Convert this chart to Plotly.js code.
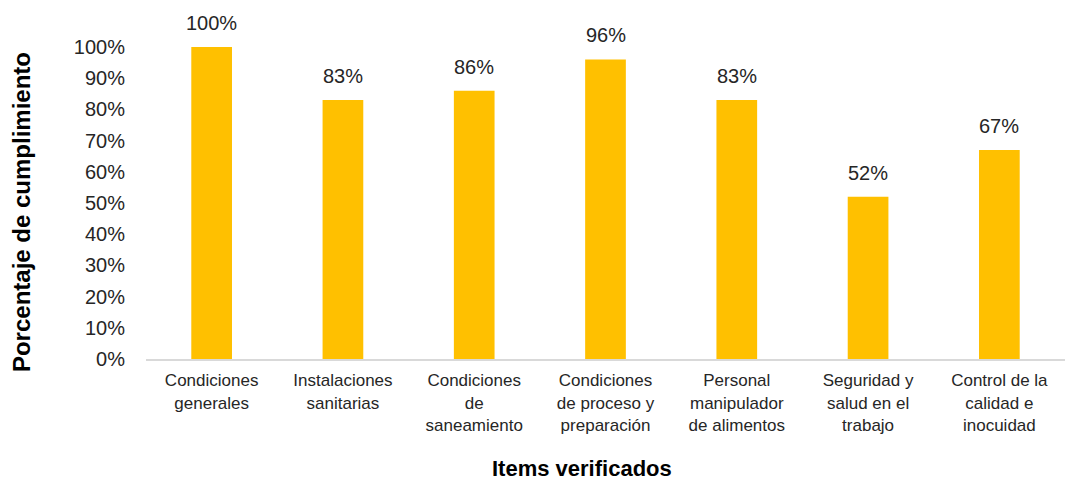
<!DOCTYPE html>
<html>
<head>
<meta charset="utf-8">
<script src="https://cdn.plot.ly/plotly-3.0.1.min.js"></script>
<style>html,body{margin:0;padding:0;background:#fff;}#chart{width:1070px;height:481px;}</style>
</head>
<body>
<div id="chart"></div>
<script>
const categories = [
  "Condiciones<br>generales",
  "Instalaciones<br>sanitarias",
  "Condiciones<br>de<br>saneamiento",
  "Condiciones<br>de proceso y<br>preparación",
  "Personal<br>manipulador<br>de alimentos",
  "Seguridad y<br>salud en el<br>trabajo",
  "Control de la<br>calidad e<br>inocuidad"
];
const values = [1.00, 0.83, 0.86, 0.96, 0.83, 0.52, 0.67];
const yTickVals = [0, 0.1, 0.2, 0.3, 0.4, 0.5, 0.6, 0.7, 0.8, 0.9, 1.0];
const yTickText = ["0%","10%","20%","30%","40%","50%","60%","70%","80%","90%","100%"];
const xTitle = "Items verificados";
const yTitle = "Porcentaje de cumplimiento";

const font = "Arial, 'Liberation Sans', sans-serif";

const trace = {
  type: "bar",
  x: categories,
  y: values,
  marker: {color: "#FFC000"},
  cliponaxis: false,
  hoverinfo: "none"
};

const valueLabels = categories.map((c, i) => ({
  x: c,
  y: values[i],
  xref: "x", yref: "y",
  text: Math.round(values[i] * 100) + "%",
  xanchor: "center", yanchor: "bottom",
  yshift: 11,
  showarrow: false,
  font: {family: font, size: 20, color: "#262626"}
}));

const layout = {
  width: 1070,
  height: 481,
  margin: {l: 146, r: 5, t: 47, b: 122},
  paper_bgcolor: "#ffffff",
  plot_bgcolor: "#ffffff",
  bargap: 0.69,
  showlegend: false,
  xaxis: {
    type: "category",
    showline: true,
    linecolor: "#d9d9d9",
    linewidth: 2,
    ticks: "",
    showgrid: false,
    tickfont: {family: font, size: 17, color: "#262626"},
    ticklabelstandoff: 5
  },
  yaxis: {
    range: [0, 1.0],
    tickvals: yTickVals,
    ticktext: yTickText,
    showgrid: false,
    zeroline: false,
    showline: false,
    ticks: "",
    tickfont: {family: font, size: 20, color: "#262626"},
    ticklabelstandoff: 20
  },
  annotations: valueLabels.concat([
    {
      text: "<b>" + xTitle + "</b>",
      xref: "paper", yref: "paper",
      x: 0.474, y: -0.35,
      xanchor: "center", yanchor: "middle",
      showarrow: false,
      font: {family: font, size: 22, color: "#000000"}
    },
    {
      text: "<b>" + yTitle + "</b>",
      xref: "paper", yref: "paper",
      x: -0.136, y: 0.471,
      xanchor: "center", yanchor: "middle",
      textangle: -90,
      showarrow: false,
      font: {family: font, size: 24, color: "#000000"}
    }
  ])
};

Plotly.newPlot("chart", [trace], layout, {staticPlot: true, displayModeBar: false});
</script>
</body>
</html>
